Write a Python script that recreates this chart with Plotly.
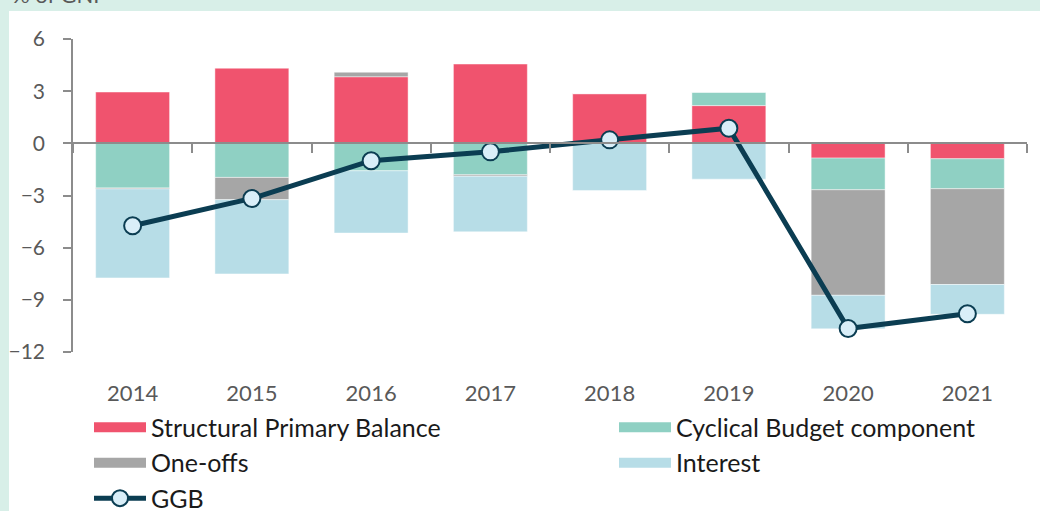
import plotly.graph_objects as go

years = ["2014", "2015", "2016", "2017", "2018", "2019", "2020", "2021"]
structural_primary = [2.95, 4.32, 3.83, 4.56, 2.86, 2.17, -0.85, -0.89]
cyclical = [-2.57, -1.96, -1.58, -1.81, 0.0, 0.77, -1.82, -1.72]
one_offs = [-0.05, -1.28, 0.26, -0.08, 0.0, 0.0, -6.07, -5.51]
interest = [-5.12, -4.27, -3.58, -3.20, -2.71, -2.06, -1.93, -1.71]
ggb = [-4.74, -3.17, -1.00, -0.49, 0.20, 0.87, -10.65, -9.80]
y_ticks = [6, 3, 0, -3, -6, -9, -12]

C_SPB = "#f0536e"
C_CYC = "#8fd0c3"
C_ONE = "#a6a6a6"
C_INT = "#b7dde7"
C_GGB = "#0b3d52"
C_MK = "#d9eef8"
AX = "#8c8c8c"
TXT = "#595959"
MINT = "#d8efe8"
FONT = "Lato"

W, H = 1040, 511
L, R, T, B = 73, 13, 39, 158.5
pw, ph = W - L - R, H - T - B

xs = list(range(len(years)))

fig = go.Figure()
series = [("Structural Primary Balance", structural_primary, C_SPB, "legend"),
          ("Cyclical Budget component", cyclical, C_CYC, "legend2"),
          ("One-offs", one_offs, C_ONE, "legend"),
          ("Interest", interest, C_INT, "legend2")]
for name, vals, col, _ in series:
    fig.add_trace(go.Bar(x=xs, y=vals, name=name, marker=dict(color=col, line=dict(color="rgba(255,255,255,0.45)", width=1)),
                         showlegend=False))

# legend proxies
for i, (name, vals, col, lg) in enumerate(series):
    fig.add_trace(go.Scatter(x=[None], y=[None], mode="lines", name=name,
                             line=dict(color=col, width=15), legend=lg, legendgroup=name))

fig.add_trace(go.Scatter(x=xs, y=ggb, name="GGB", mode="lines+markers", xaxis="x2",
                         line=dict(color=C_GGB, width=5),
                         marker=dict(size=17, color=C_MK, line=dict(color=C_GGB, width=2)),
                         legend="legend", legendgroup="GGB"))

boundaries = [i - 0.5 for i in range(len(years) + 1)]

def px_x(p):
    return (p - L) / pw

def px_y(p):
    return (H - B - p) / ph

fig.update_layout(
    width=W, height=H,
    margin=dict(l=L, r=R, t=T, b=B, pad=0, autoexpand=False),
    paper_bgcolor=MINT, plot_bgcolor="white",
    barmode="relative", bargap=0.38,
    font=dict(family=FONT, color=TXT),
    xaxis=dict(range=[-0.5, len(years) - 0.5], tickvals=xs, ticktext=years, showline=False,
               showgrid=False, zeroline=False, ticks="", ticklabelstandoff=26,
               tickfont=dict(size=22, color=TXT, family=FONT)),
    xaxis2=dict(range=[-0.5, len(years) - 0.5], overlaying="x", anchor="free", position=12 / 18,
                tickvals=boundaries, showticklabels=False, ticks="outside", ticklen=9, tickwidth=1.5,
                tickcolor=AX, showline=True, linecolor=AX, linewidth=1.5, showgrid=False, zeroline=False),
    yaxis=dict(range=[-12, 6], tickvals=y_ticks, ticks="outside", ticklen=8, tickwidth=1.5,
               tickcolor=AX, showline=True, linecolor=AX, linewidth=1.5, showgrid=False,
               zeroline=False, ticklabelstandoff=14, tickfont=dict(size=21, color=TXT, family=FONT)),
    legend=dict(x=px_x(89), xanchor="left", y=px_y(405), yanchor="top",
                orientation="v", bgcolor="rgba(0,0,0,0)", itemwidth=52, tracegroupgap=0,
                font=dict(size=25, color="#1a1a1a", family=FONT), itemclick=False),
    legend2=dict(x=px_x(614), xanchor="left", y=px_y(405), yanchor="top",
                 orientation="v", bgcolor="rgba(0,0,0,0)", itemwidth=52, tracegroupgap=0,
                 font=dict(size=25, color="#1a1a1a", family=FONT), itemclick=False),
    shapes=[dict(type="rect", xref="paper", yref="paper", layer="below",
                 x0=px_x(9), x1=px_x(W + 5), y0=px_y(H + 5), y1=px_y(11),
                 fillcolor="white", line=dict(width=0))],
    annotations=[dict(text="% of GNI", xref="paper", yref="paper", x=px_x(10), xanchor="left",
                      y=px_y(10), yanchor="bottom", showarrow=False,
                      font=dict(size=22, color=TXT, family=FONT))],
)

fig.write_html("out.html", config={"displayModeBar": False},
               post_script="document.body.style.margin='0';document.body.style.padding='0';")
